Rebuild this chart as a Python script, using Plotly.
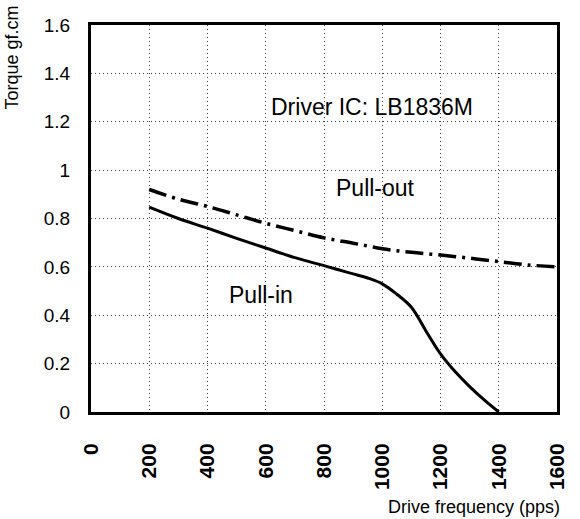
import plotly.graph_objects as go

# Data
pull_in_freq = [200, 300, 400, 500, 600, 700, 800, 850, 900, 950, 1000, 1050, 1100, 1150, 1200, 1250, 1300, 1350, 1400]
pull_in_torque = [0.847, 0.80, 0.76, 0.718, 0.678, 0.638, 0.605, 0.588, 0.571, 0.554, 0.53, 0.487, 0.433, 0.335, 0.24, 0.167, 0.105, 0.05, 0.0]

pull_out_freq = [200, 300, 400, 500, 600, 700, 800, 900, 1000, 1100, 1200, 1300, 1400, 1500, 1600]
pull_out_torque = [0.92, 0.88, 0.85, 0.815, 0.78, 0.75, 0.72, 0.698, 0.675, 0.66, 0.649, 0.636, 0.622, 0.608, 0.60]

x_ticks = [0, 200, 400, 600, 800, 1000, 1200, 1400, 1600]
y_ticks = [0, 0.2, 0.4, 0.6, 0.8, 1.0, 1.2, 1.4, 1.6]
y_tick_labels = ["0", "0.2", "0.4", "0.6", "0.8", "1", "1.2", "1.4", "1.6"]

labels = [
    {"text": "Driver IC: LB1836M", "x": 965, "y": 1.262},
    {"text": "Pull-out", "x": 978, "y": 0.926},
    {"text": "Pull-in", "x": 583, "y": 0.484},
]

fig = go.Figure()
fig.add_trace(go.Scatter(
    x=pull_out_freq, y=pull_out_torque, mode="lines", name="Pull-out",
    line=dict(color="black", width=3.5, dash="18px,6px,3px,6px", shape="spline"),
))
fig.add_trace(go.Scatter(
    x=pull_in_freq, y=pull_in_torque, mode="lines", name="Pull-in",
    line=dict(color="black", width=3, shape="spline", smoothing=1),
))

for lab in labels:
    fig.add_annotation(x=lab["x"], y=lab["y"], text=lab["text"], showarrow=False,
                       font=dict(family="Liberation Sans, Arial", size=23, color="black"),
                       xanchor="center", yanchor="middle")

fig.add_annotation(xref="paper", yref="paper", x=1.01, y=-0.245, xanchor="right", yanchor="middle",
                   text="Drive frequency (pps)", showarrow=False,
                   font=dict(family="Liberation Sans, Arial", size=18, color="black"))
fig.add_annotation(xref="paper", yref="paper", x=-0.17, y=1.055, xanchor="center", yanchor="top",
                   text="Torque gf.cm", textangle=-90, showarrow=False,
                   font=dict(family="Liberation Sans, Arial", size=18, color="black"))

fig.update_xaxes(
    range=[0, 1600], tickvals=x_ticks, ticktext=[str(v) for v in x_ticks],
    tickangle=-90, tickfont=dict(family="Liberation Sans, Arial", size=21, color="black", weight="bold"),
    showline=True, linecolor="black", linewidth=3, mirror=True,
    showgrid=True, gridcolor="#444444", gridwidth=1, griddash="1px,3px",
    zeroline=False, ticks="", ticklabelstandoff=20,
)
fig.update_yaxes(
    range=[0, 1.6], tickvals=y_ticks, ticktext=y_tick_labels,
    tickfont=dict(family="Liberation Sans, Arial", size=19, color="black"),
    showline=True, linecolor="black", linewidth=3, mirror=True,
    showgrid=True, gridcolor="#444444", gridwidth=1, griddash="1px,3px",
    zeroline=False, ticks="", ticklabelstandoff=14,
)
fig.update_layout(
    width=580, height=519,
    margin=dict(l=91, r=23, t=25, b=107),
    paper_bgcolor="white", plot_bgcolor="white",
    showlegend=False,
)
fig.write_html("out.html", config={"displayModeBar": False},
               post_script="document.body.style.margin='0';document.documentElement.style.overflow='hidden';")
